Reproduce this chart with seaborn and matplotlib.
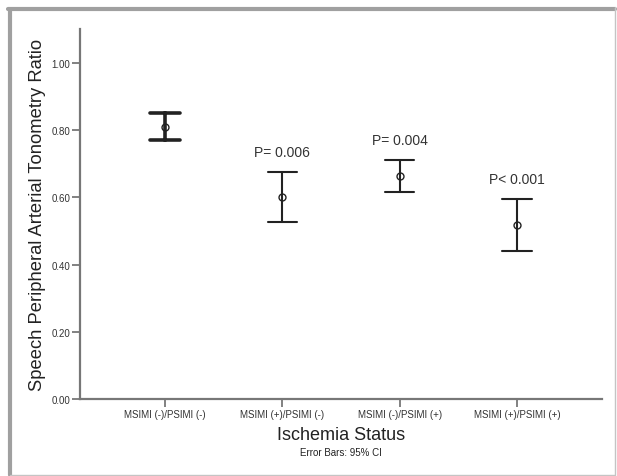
#!/usr/bin/env python3
"""
Speech PAT ratio by ischemia status, means with 95% CI
"""

import matplotlib
matplotlib.use("Agg")
import matplotlib.pyplot as plt
from matplotlib.lines import Line2D
import numpy as np
import pandas as pd
import seaborn as sns

groups = ["MSIMI (-)/PSIMI (-)", "MSIMI (+)/PSIMI (-)",
          "MSIMI (-)/PSIMI (+)", "MSIMI (+)/PSIMI (+)"]
means = [0.810, 0.602, 0.663, 0.517]
ci_low = [0.770, 0.528, 0.616, 0.440]
ci_high = [0.851, 0.676, 0.711, 0.594]
p_labels = ["", "P= 0.006", "P= 0.004", "P< 0.001"]
y_ticks = [0.0, 0.2, 0.4, 0.6, 0.8, 1.0]

# long table: lower bound, mean, upper bound per group
# median -> mean, 100% percentile interval -> (lower, upper)
rows = []
for g, lo, m, hi in zip(groups, ci_low, means, ci_high):
    for v in (lo, m, hi):
        rows.append({"group": g, "value": v})
df = pd.DataFrame(rows)

sns.set_style("ticks")
plt.rcParams["font.family"] = ["Liberation Sans", "DejaVu Sans"]

W, H = 617, 477
fig = plt.figure(figsize=(W / 100, H / 100), dpi=100)
ax = fig.add_axes([80 / W, 1 - 400 / H, (602 - 80) / W, (400 - 30.4) / H])

ink = "#222222"
sns.pointplot(data=df, x="group", y="value", order=groups,
              estimator="median", errorbar=("pi", 100),
              linestyle="none", marker="o", markersize=5,
              markeredgewidth=1.0, markerfacecolor="none",
              capsize=0.25, color=ink, err_kws={"linewidth": 1.5},
              ax=ax)

# first group drawn heavier, as in the original
for ln in ax.lines:
    xd = np.asarray(ln.get_xdata(), dtype=float)
    if len(xd) > 4 and abs(np.nanmean(xd)) < 0.3:
        ln.set_linewidth(2.6)

for i, lab in enumerate(p_labels):
    if lab:
        ax.text(i, ci_high[i] + 0.06, lab, ha="center", va="center",
                fontsize=10, color="#333333")

ax.set_xlim(-0.725, 3.725)
ax.set_ylim(0, 1.1)
ax.set_yticks(y_ticks)
ax.set_yticklabels([f"{t:.2f}" for t in y_ticks])

sns.despine(ax=ax)
for side in ("left", "bottom"):
    ax.spines[side].set_color("#777777")
    ax.spines[side].set_linewidth(1.6)
ax.tick_params(axis="both", colors="#777777", length=6, width=1.3,
               labelsize=7, labelcolor="#333333", pad=1)

ax.set_xlabel("Ischemia Status", fontsize=13, color="#222222", labelpad=5)
ax.set_ylabel("Speech Peripheral Arterial Tonometry Ratio", fontsize=13.2,
              color="#222222", labelpad=4)

fig.text(341 / W, 1 - 453 / H, "Error Bars: 95% CI", ha="center",
         va="center", fontsize=7, color="#222222")

# outer frame: heavy top/left, light right/bottom
fig.add_artist(Line2D([10 / W, 10 / W], [1 - 10 / H, 1 - 476 / H],
                      transform=fig.transFigure, color="#a0a0a0", lw=3))
fig.add_artist(Line2D([8 / W, 615 / W], [1 - 10 / H, 1 - 10 / H],
                      transform=fig.transFigure, color="#a0a0a0", lw=3))
fig.add_artist(Line2D([614.5 / W, 614.5 / W], [1 - 8 / H, 1 - 476 / H],
                      transform=fig.transFigure, color="#c4c4c4", lw=1))
fig.add_artist(Line2D([10 / W, 615 / W], [1 - 475.5 / H, 1 - 475.5 / H],
                      transform=fig.transFigure, color="#c4c4c4", lw=1))

fig.savefig("out.png", dpi=100)
